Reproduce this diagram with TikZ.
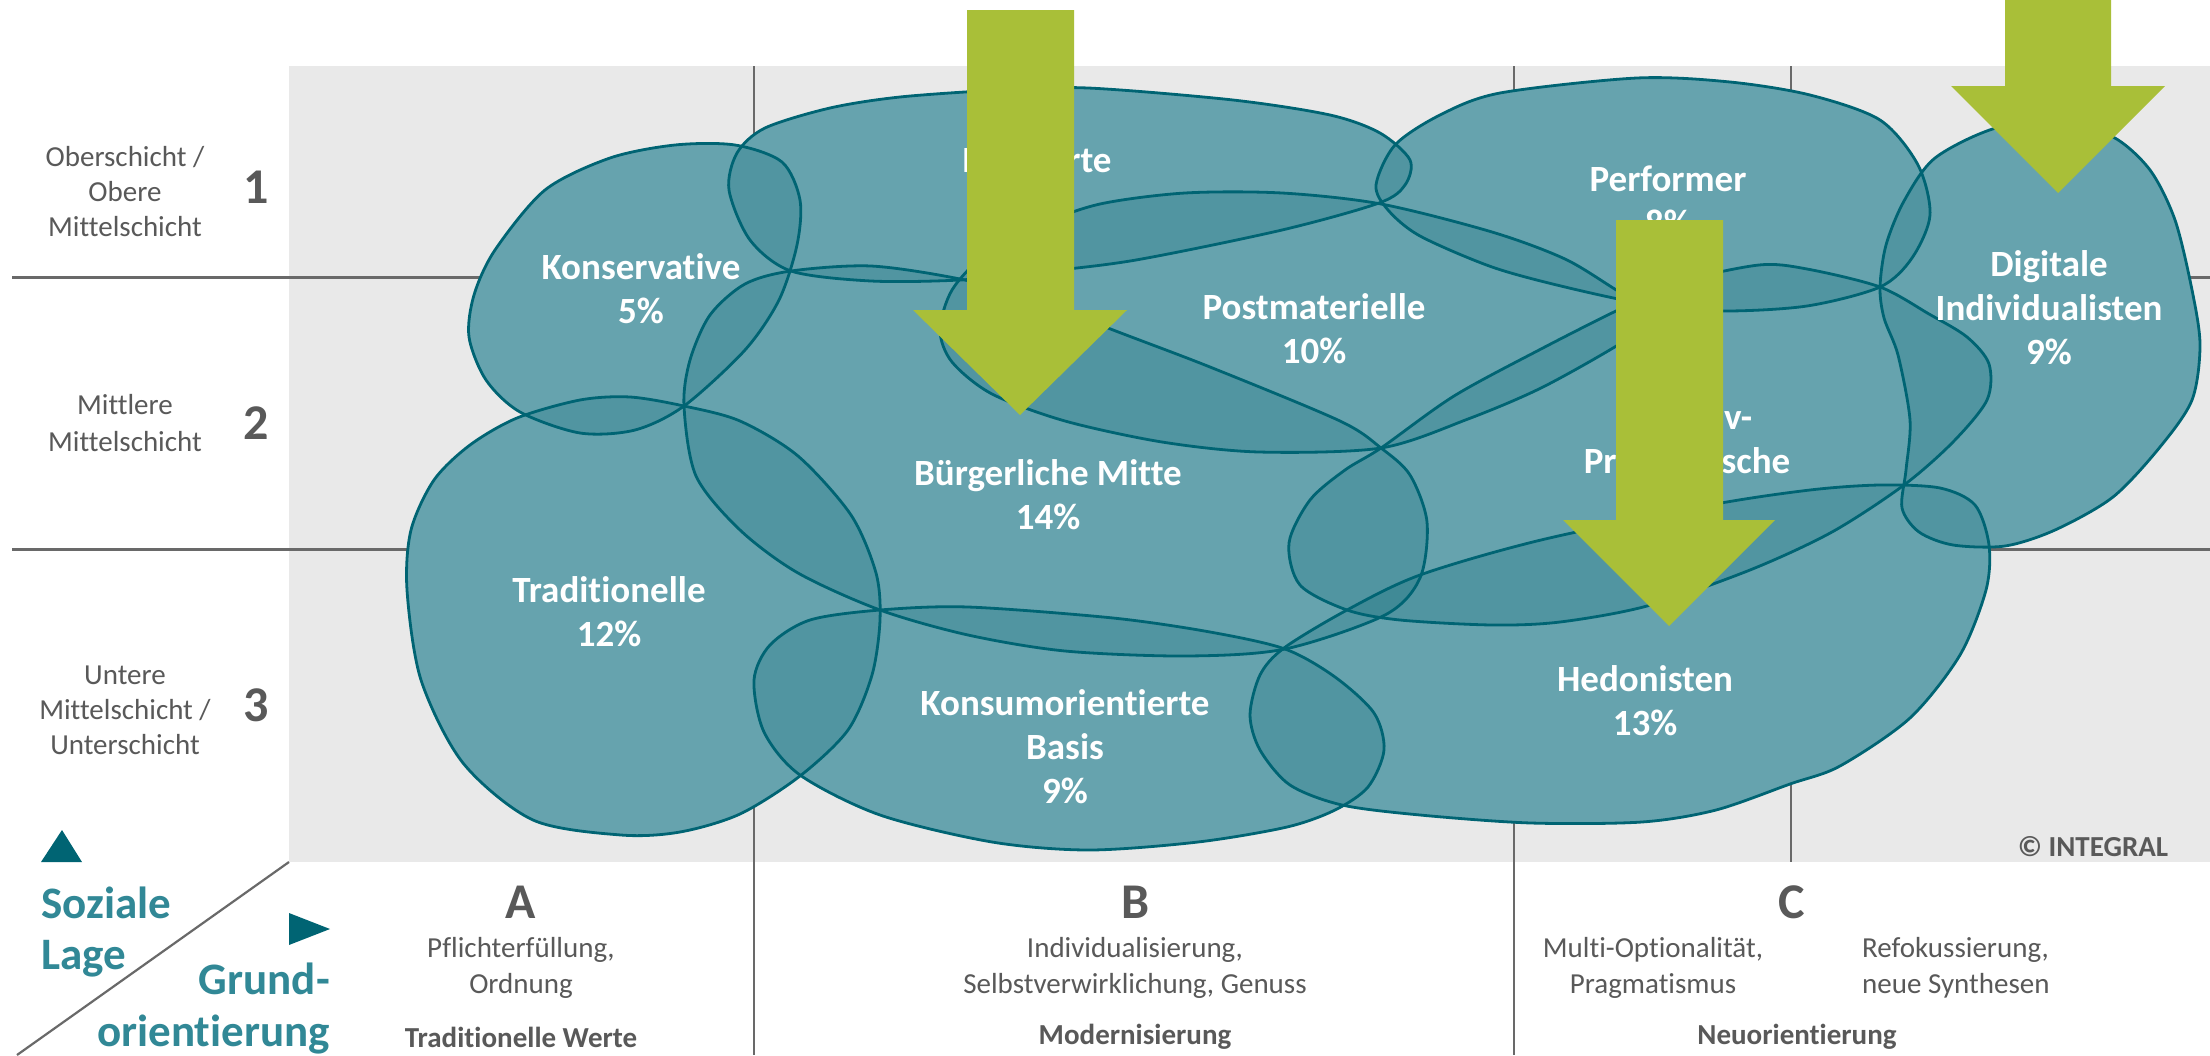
\documentclass[tikz,border=0pt]{standalone}
\usepackage{fontspec}
\setmainfont{Carlito}[Ligatures=NoCommon]
\definecolor{bggrey}{RGB}{233,233,233}
\definecolor{gridline}{RGB}{105,105,105}
\definecolor{txtgrey}{RGB}{89,89,89}
\definecolor{blobbase}{RGB}{128,180,190}
\definecolor{blobdark}{RGB}{0,96,110}
\definecolor{blobline}{RGB}{0,100,115}
\definecolor{arrowgreen}{RGB}{169,191,56}
\definecolor{tealtxt}{RGB}{49,136,150}
\definecolor{tealtri}{RGB}{0,100,115}
\newcommand\shpK{plot[smooth cycle] coordinates {(469,337) (486,380) (520,412) (580,433) (635,430) (684,406) (745,350) (779,300) (797,245) (800,200) (782,162) (735,145) (675,145) (610,158) (545,190) (495,250) (474,295)}}
\newcommand\shpE{plot[smooth cycle] coordinates {(729,190) (737,153) (765,128) (830,108) (900,97) (1000,90) (1088,88) (1233,100) (1330,115) (1380,133) (1410,160) (1405,185) (1379,203) (1282,230) (1136,260) (1040,272) (960,280) (871,281) (791,271) (750,240)}}
\newcommand\shpP{plot[smooth cycle] coordinates {(1376,185) (1395,145) (1440,115) (1500,93) (1637,78) (1730,82) (1810,95) (1880,120) (1918,165) (1930,215) (1912,258) (1880,287) (1807,306) (1723,311) (1650,305) (1565,287) (1492,267) (1420,236) (1388,210)}}
\newcommand\shpD{plot[smooth cycle] coordinates {(1904,201) (1935,158) (1996,128) (2060,124) (2113,137) (2150,170) (2175,220) (2192,290) (2200,345) (2192,400) (2160,447) (2113,497) (2055,530) (2005,546) (1953,545) (1919,532) (1902,508) (1906,470) (1910,420) (1898,355) (1884,318) (1880,287) (1886,245)}}
\newcommand\shpPM{plot[smooth cycle] coordinates {(940,330) (952,290) (985,255) (1040,225) (1100,204) (1185,193) (1282,193) (1381,204) (1492,232) (1565,259) (1618,291) (1660,315) (1618,345) (1541,388) (1468,419) (1381,448) (1259,452) (1162,442) (1065,421) (992,394) (952,362)}}
\newcommand\shpBM{plot[smooth cycle] coordinates {(791,271) (871,266) (960,279) (1040,300) (1108,328) (1210,367) (1340,421) (1381,448) (1410,475) (1427,522) (1420,578) (1385,615) (1285,649) (1186,656) (1065,651) (968,635) (880,610) (798,573) (740,530) (696,476) (684,406) (690,360) (710,315) (745,284)}}
\newcommand\shpT{plot[smooth cycle] coordinates {(517,418) (580,400) (630,397) (684,406) (740,421) (798,456) (851,515) (876,573) (880,620) (872,675) (848,730) (800,776) (740,814) (680,832) (621,835) (533,820) (463,763) (421,680) (407,590) (411,530) (434,480) (470,445)}}
\newcommand\shpKB{plot[smooth cycle] coordinates {(880,610) (968,607) (1113,618) (1210,632) (1285,649) (1335,677) (1374,713) (1384,750) (1368,787) (1335,810) (1287,827) (1198,842) (1089,850) (992,842) (880,815) (800,775) (764,732) (754,680) (770,645) (810,620)}}
\newcommand\shpAP{plot[smooth cycle] coordinates {(1381,448) (1454,396) (1541,349) (1618,310) (1680,282) (1759,265) (1807,269) (1880,287) (1929,314) (1967,337) (1989,364) (1987,400) (1953,442) (1904,485) (1832,532) (1750,570) (1647,606) (1560,622) (1492,625) (1400,620) (1347,610) (1300,585) (1289,543) (1310,500) (1345,470)}}
\newcommand\shpH{plot[smooth cycle] coordinates {(1284,648) (1347,610) (1420,575) (1541,540) (1710,505) (1810,490) (1880,485) (1940,488) (1975,505) (1989,545) (1986,590) (1960,655) (1910,718) (1840,766) (1790,784) (1716,810) (1642,822) (1531,823) (1420,815) (1342,805) (1290,785) (1260,750) (1250,715) (1260,675)}}
\tikzset{
  blobfill/.style={fill=blobbase},
  blobshade/.style={fill=blobdark, fill opacity=0.2},
  blobedge/.style={draw=blobline, line width=2.8pt},
  hline/.style={draw=gridline, line width=3pt},
  vline/.style={draw=gridline, line width=2.2pt},
  lbl/.style={text=white, font=\bfseries\fontsize{37}{44}\selectfont, align=center, inner sep=0pt},
  axtxt/.style={text=txtgrey, font=\fontsize{29}{35}\selectfont, align=center, inner sep=0pt},
  axbold/.style={text=txtgrey, font=\bfseries\fontsize{29}{35}\selectfont, align=center, inner sep=0pt},
  axnum/.style={text=txtgrey, font=\bfseries\fontsize{50}{50}\selectfont, inner sep=0pt},
  axtitle/.style={text=tealtxt, font=\bfseries\fontsize{45}{51}\selectfont, inner sep=0pt},
  greenarrow/.style={fill=arrowgreen},
  triangle/.style={fill=tealtri}
}
\begin{document}
\begin{tikzpicture}[x=1pt,y=-1pt]
\useasboundingbox (0,0) rectangle (2210,1055);
\fill[white] (0,0) rectangle (2210,1055);
% grey field
\fill[bggrey] (289,66) rectangle (2210,862);
% grid lines
\coordinate (h1a) at (12,277); \coordinate (h1b) at (2210,277);
\coordinate (h2a) at (12,549); \coordinate (h2b) at (2210,549);
\coordinate (v1a) at (754,66); \coordinate (v1b) at (754,1055);
\coordinate (v2a) at (1514,66); \coordinate (v2b) at (1514,1055);
\coordinate (v3a) at (1791,66); \coordinate (v3b) at (1791,862);
\coordinate (d1a) at (289,862); \coordinate (d1b) at (17,1055);
\draw[hline] (h1a) -- (h1b);
\draw[hline] (h2a) -- (h2b);
\draw[vline] (v1a) -- (v1b);
\draw[vline] (v2a) -- (v2b);
\draw[vline] (v3a) -- (v3b);
\draw[vline] (d1a) -- (d1b);
% blobs: opaque base
\fill[blobfill] \shpK; \fill[blobfill] \shpE; \fill[blobfill] \shpP; \fill[blobfill] \shpD;
\fill[blobfill] \shpPM; \fill[blobfill] \shpBM; \fill[blobfill] \shpT; \fill[blobfill] \shpKB;
\fill[blobfill] \shpAP; \fill[blobfill] \shpH;
% blobs: overlap shading
\fill[blobshade] \shpK; \fill[blobshade] \shpE; \fill[blobshade] \shpP; \fill[blobshade] \shpD;
\fill[blobshade] \shpPM; \fill[blobshade] \shpBM; \fill[blobshade] \shpT; \fill[blobshade] \shpKB;
\fill[blobshade] \shpAP; \fill[blobshade] \shpH;
% outlines
\draw[blobedge] \shpK; \draw[blobedge] \shpE; \draw[blobedge] \shpP; \draw[blobedge] \shpD;
\draw[blobedge] \shpPM; \draw[blobedge] \shpBM; \draw[blobedge] \shpT; \draw[blobedge] \shpKB;
\draw[blobedge] \shpAP; \draw[blobedge] \shpH;
% milieu labels
\node[lbl] (lK) at (641,289) {Konservative\\5\%};
\node[lbl] (lE) at (1037,160) {Etablierte};
\node[lbl] (lP) at (1668,201) {Performer\\8\%};
\node[lbl] (lD) at (2049,308) {Digitale\\Individualisten\\9\%};
\node[lbl] (lPM) at (1314,329) {Postmaterielle\\10\%};
\node[lbl] (lBM) at (1048,495) {Bürgerliche Mitte\\14\%};
\node[lbl] (lAP) at (1687,442) {Adaptiv-\\Pragmatische};
\node[lbl] (lT) at (609,612) {Traditionelle\\12\%};
\node[lbl] (lKB) at (1065,747) {Konsumorientierte\\Basis\\9\%};
\node[lbl] (lH) at (1645,701) {Hedonisten\\13\%};
% green arrows
\fill[greenarrow] (967,10) -- (1074,10) -- (1074,310) -- (1127,310) -- (1020,415) -- (913,310) -- (967,310) -- cycle;
\fill[greenarrow] (2005,0) -- (2111,0) -- (2111,86) -- (2165,86) -- (2058,193) -- (1951,86) -- (2005,86) -- cycle;
\fill[greenarrow] (1616,220) -- (1723,220) -- (1723,520) -- (1775,520) -- (1669,626) -- (1563,520) -- (1616,520) -- cycle;
% left axis
\node[axtxt] (s1) at (125,192) {Oberschicht /\\Obere\\Mittelschicht};
\node[axnum] (n1) at (256,187) {1};
\node[axtxt, font=\fontsize{29}{37}\selectfont] (s2) at (125,423) {Mittlere\\Mittelschicht};
\node[axnum] (n2) at (256,423) {2};
\node[axtxt] (s3) at (125,710) {Untere\\Mittelschicht /\\Unterschicht};
\node[axnum] (n3) at (256,705) {3};
% corner
\fill[triangle] (41,862) -- (82,862) -- (62,830) -- cycle;
\fill[triangle] (289,913) -- (289,945) -- (330,929) -- cycle;
\node[axtitle, anchor=west, align=left] (soz) at (41,932) {Soziale\\Lage};
\node[axtitle, anchor=east, align=right, font=\bfseries\fontsize{45}{52}\selectfont] (gro) at (330,1009) {Grund-\\orientierung};
% bottom axis
\node[axnum] (cA) at (521,902) {A};
\node[axnum] (cB) at (1135,902) {B};
\node[axnum] (cC) at (1792,902) {C};
\node[axtxt, font=\fontsize{29}{36}\selectfont] (tA) at (521,968) {Pflichterfüllung,\\Ordnung};
\node[axtxt, font=\fontsize{29}{36}\selectfont] (tB) at (1135,968) {Individualisierung,\\Selbstverwirklichung, Genuss};
\node[axtxt, font=\fontsize{29}{36}\selectfont] (tC1) at (1653,968) {Multi-Optionalität,\\Pragmatismus};
\node[axtxt, font=\fontsize{29}{36}\selectfont, anchor=west, align=left] (tC2) at (1862,968) {Refokussierung,\\neue Synthesen};
\node[axbold] (wA) at (521,1037) {Traditionelle Werte};
\node[axbold] (wB) at (1135,1037) {Modernisierung};
\node[axbold] (wC) at (1797,1037) {Neuorientierung};
\node[axbold] (copy) at (2093,847) {© INTEGRAL};
\end{tikzpicture}
\end{document}
